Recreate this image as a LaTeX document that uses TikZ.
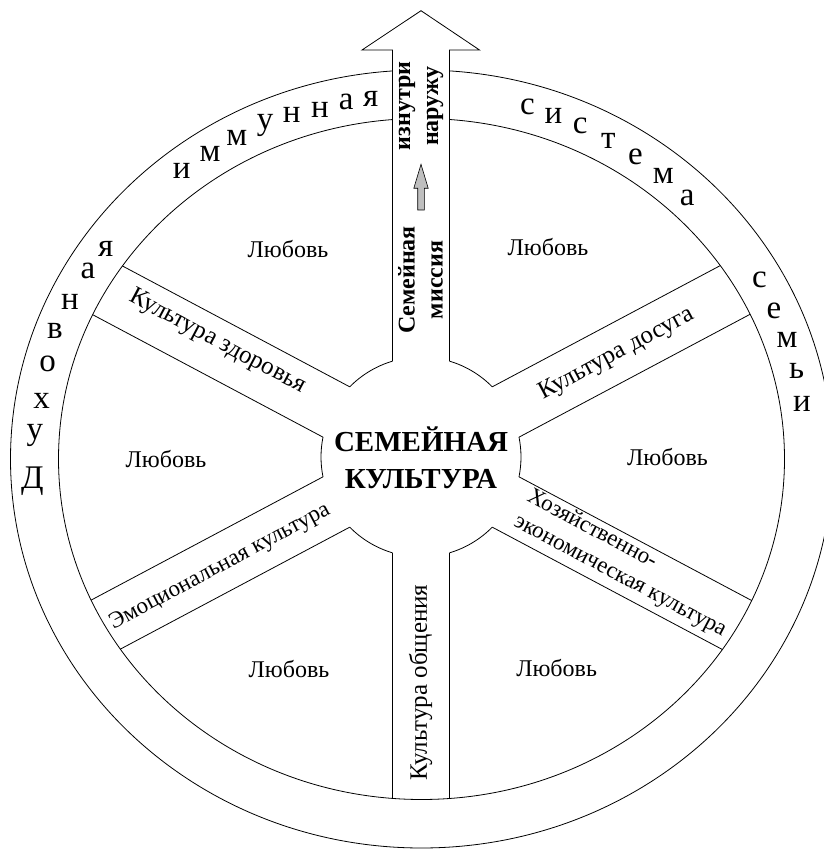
\documentclass[tikz,border=0pt]{standalone}
\usepackage{fontspec}
\setmainfont{Liberation Serif}
\usetikzlibrary{calc}
\begin{document}
\begin{tikzpicture}[x=1pt,y=1pt,
  lin/.style={line width=0.8pt, draw=black},
  love/.style={font=\fontsize{24}{28}\selectfont, anchor=base, inner sep=0pt},
  ringl/.style={font=\fontsize{33}{36}\selectfont, anchor=base, inner sep=0pt},
  bandl/.style={font=\fontsize{25}{28}\selectfont, inner sep=0pt},
  hozl/.style={font=\fontsize{23}{28}\selectfont, inner sep=0pt},
  boldl/.style={font=\bfseries\fontsize{24}{28}\selectfont, inner sep=0pt, align=center, rotate=90},
  titl/.style={font=\bfseries\fontsize{29}{37}\selectfont, inner sep=0pt, align=center},
]
\useasboundingbox (0,0) rectangle (824,849);
\coordinate (C) at (421,392);
\coordinate (E) at (421.5,390);
% rings
\draw[lin] (E) ellipse [x radius=411, y radius=389];
\draw[lin] (E) ellipse [x radius=363, y radius=340.5];
% spokes
\begin{scope}
  \clip (E) ellipse [x radius=363, y radius=340.5];
  \foreach \a in {28,-28,-90,208,152}{
    \begin{scope}[shift={(C)}, rotate=\a]
      \draw[lin] (95.85,28.5) -- (600,28.5);
      \draw[lin] (95.85,-28.5) -- (600,-28.5);
    \end{scope}
  }
\end{scope}
% hub arcs
\foreach \s/\e in {44.56/73.44, -11.44/11.44, -73.44/-44.56, -135.44/-106.56, 168.56/191.44, 106.56/135.44}{
  \draw[lin] ($(C)+(\s:100)$) arc[start angle=\s, end angle=\e, radius=100];
}
% big arrow
\path[fill=white] (392.5,487.85) -- (392.5,799) -- (362,799) -- (421,838.3) -- (479.5,799) -- (449.5,799) -- (449.5,487.85) -- cycle;
\draw[lin] (392.5,487.85) -- (392.5,799) -- (362,799) -- (421,838.3) -- (479.5,799) -- (449.5,799) -- (449.5,487.85);
% small gray arrow
\draw[line width=0.6pt, fill=black!25] (417.7,639) -- (417.7,660.7) -- (413.8,660.7) -- (421,684.7) -- (428.2,660.7) -- (424.3,660.7) -- (424.3,639) -- cycle;
% texts
\node[titl] (title) at (421,391) {СЕМЕЙНАЯ\\КУЛЬТУРА};
\node[boldl] (mission) at (420.5,569) {Семейная\\миссия};
\node[boldl] (dir) at (421,743) {изнутри\\наружу};
\node[love] (l1) at (288,591) {Любовь};
\node[love] (l2) at (548,593.5) {Любовь};
\node[love] (l3) at (166,381.5) {Любовь};
\node[love] (l4) at (667.5,383.5) {Любовь};
\node[love] (l5) at (289,171) {Любовь};
\node[love] (l6) at (556.6,172) {Любовь};
\node[bandl, rotate=-28] (b1) at (217.5,507) {Культура здоровья};
\node[bandl, rotate=28] (b2) at (616.7,495) {Культура досуга};
\node[hozl, rotate=28] (b3) at (220,282) {Эмоциональная культура};
\node[hozl, rotate=-28, align=left] (b4) at (626.6,285) {Хозяйственно-\\экономическая культура};
\node[bandl, rotate=90] (b5) at (420.5,166.5) {Культура общения};
% ring letters
\foreach \ch/\x/\y [count=\i] in {Д/32.5/360.7, у/35/409, х/41.7/440.7, о/47.5/477.3, в/55/510.7, н/70/539, а/88/570.7, я/105.8/592.3,
  и/181.7/670.7, м/210/687.3, м/236.7/703, у/265/719.7, н/291.7/726.3, н/320/731.7, а/346.3/739, я/370.8/742.3,
  с/527.5/734, и/553.5/725.7, с/580.3/715, т/608.3/700.7, е/635.5/684, м/663.3/665.7, а/687.3/643.3,
  с/759.5/561.7, е/774/530.7, м/787/501.7, ь/796.7/470.7, и/802/437.3}{
  \node[ringl] (r\i) at (\x,\y) {\ch};
}
\end{tikzpicture}
\end{document}
